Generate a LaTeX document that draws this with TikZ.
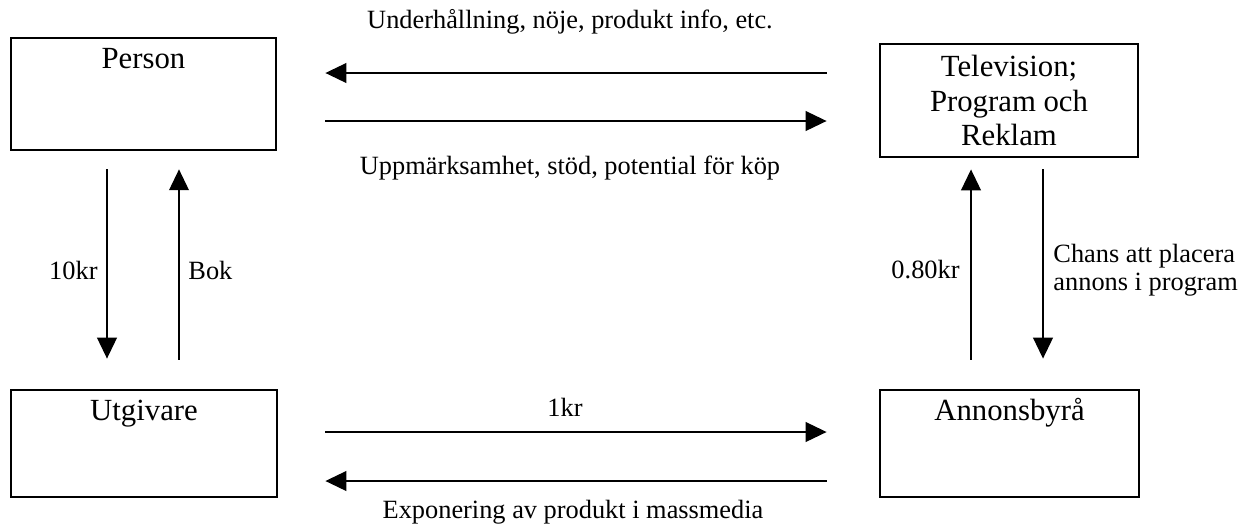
\documentclass[tikz,border=0pt]{standalone}
\usepackage{fontspec}
\setmainfont{Liberation Serif}
\usepackage{tikz}
\usetikzlibrary{arrows.meta,positioning,calc}

\begin{document}
\begin{tikzpicture}[
  box/.style={
    rectangle, draw=black, line width=1.3pt, inner sep=4pt,
    align=center, font=\fontsize{14}{15.5}\selectfont
  },
  onebox/.style={box, text height=10pt, text depth=#1},
  arr/.style={-{Triangle[length=9.5pt, width=9pt]}, line width=0.6pt},
  label/.style={font=\fontsize{12}{13}\selectfont, inner sep=0pt}
]
\useasboundingbox (0,0) rectangle (19.936,-8.384);

% --- Boxes
\node[onebox=32.9pt, minimum width=4.24cm,  minimum height=1.79cm]  (person) at (2.296, -1.504)  {Person};
\node[box,           minimum width=4.128cm, minimum height=1.808cm] (tv)     at (16.144, -1.608) {Television;\\Program och\\Reklam};
\node[onebox=30.7pt, minimum width=4.256cm, minimum height=1.712cm] (utg)    at (2.304, -7.096)  {Utgivare};
\node[onebox=30.7pt, minimum width=4.144cm, minimum height=1.712cm] (ann)    at (16.152, -7.096) {Annonsbyrå};

% --- Arrows: person <-> television
\draw[arr, shorten <=0.832cm, shorten >=0.768cm] (tv.west |- 0,-1.168) -- (person.east |- 0,-1.168);
\draw[arr, shorten <=0.768cm, shorten >=0.832cm] (person.east |- 0,-1.936) -- (tv.west |- 0,-1.936);

% --- Arrows: utgivare <-> annonsbyra
\draw[arr, shorten <=0.752cm, shorten >=0.832cm] (utg.east |- 0,-6.912) -- (ann.west |- 0,-6.912);
\draw[arr, shorten <=0.832cm, shorten >=0.752cm] (ann.west |- 0,-7.696) -- (utg.east |- 0,-7.696);

% --- Arrows: vertical
\draw[arr, shorten <=0.288cm, shorten >=0.48cm]  (person.south -| 1.712,0) -- (utg.north -| 1.712,0);
\draw[arr, shorten <=0.464cm, shorten >=0.288cm] (utg.north -| 2.864,0) -- (person.south -| 2.864,0);
\draw[arr, shorten <=0.464cm, shorten >=0.176cm] (ann.north -| 15.536,0) -- (tv.south -| 15.536,0);
\draw[arr, shorten <=0.176cm, shorten >=0.48cm]  (tv.south -| 16.688,0) -- (ann.north -| 16.688,0);

% --- Labels
\node[label] (under) at (9.12, -0.352) {Underhållning, nöje, produkt info, etc.};
\node[label] (uppm)  at (9.12, -2.688) {Uppmärksamhet, stöd, potential för köp};
\node[label, anchor=east] (kr10) at (1.568, -4.32) {10kr};
\node[label, anchor=west] (bok)  at (3.008, -4.32) {Bok};
\node[label, anchor=east] (kr080) at (15.36, -4.32) {0.80kr};
\node[label, anchor=west, align=left] (chans) at (16.848, -4.32) {Chans att placera\\annons i program};
\node[label] (kr1)  at (9.04, -6.512) {1kr};
\node[label] (expo) at (9.168, -8.192) {Exponering av produkt i massmedia};

\end{tikzpicture}
\end{document}
